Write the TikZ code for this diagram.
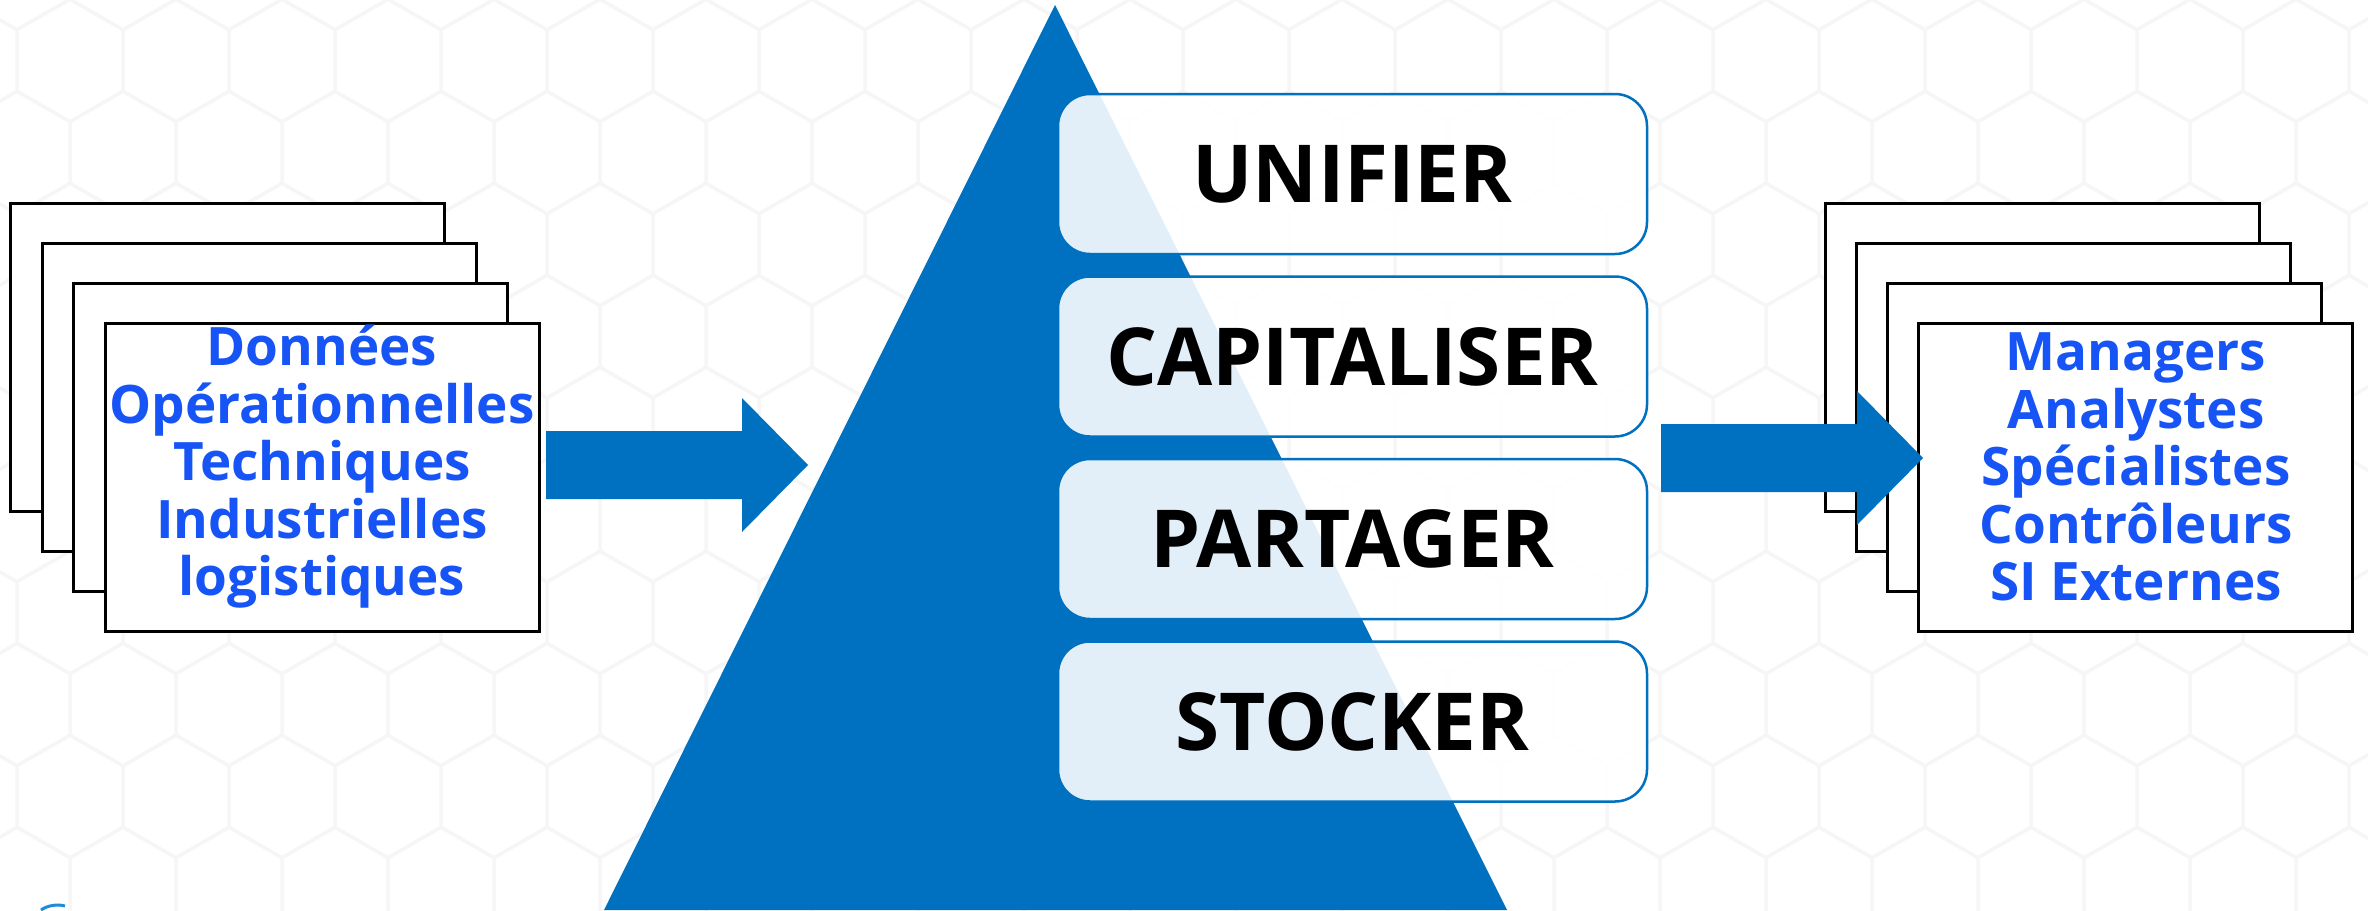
\documentclass[tikz,border=0pt]{standalone}
\usepackage{fontspec}
\setmainfont{Open Sans}
\usetikzlibrary{positioning}
\usetikzlibrary{calc}

\definecolor{pyramid}{RGB}{0,112,192}
\definecolor{labelblue}{RGB}{22,84,245}
\definecolor{hexgray}{RGB}{246,246,246}
\definecolor{logoblue}{RGB}{30,140,215}

% block arrow from #1 to #2 (same height)
\newcommand{\flowarrow}[2]{%
  \fill[flow] let \p1=(#1), \p2=(#2) in
    (\x1,\y1+34pt) -- (\x2-66pt,\y1+34pt) -- (\x2-66pt,\y1+67pt) -- (\x2,\y1)
    -- (\x2-66pt,\y1-67pt) -- (\x2-66pt,\y1-34pt) -- (\x1,\y1-34pt) -- cycle;}

\begin{document}
\begin{tikzpicture}[x=1pt,y=-1pt,
	page/.style={draw=black,line width=3pt,fill=white,minimum width=434pt,minimum height=308pt,inner sep=0pt},
	stage/.style={draw=pyramid,line width=2.5pt,fill=white,fill opacity=0.89,text opacity=1,rounded corners=32pt,
		minimum width=589pt,minimum height=160pt,font=\fontsize{80}{96}\selectfont\bfseries},
	listing/.style={align=center,text=labelblue,font=\fontsize{53}{57.5}\selectfont\bfseries},
	hexline/.style={draw=hexgray,line width=3pt},
	flow/.style={fill=pyramid}
	]
	\useasboundingbox (0,0) rectangle (2368,910);
	% background
	\fill[white] (0,0) rectangle (2368,910);
	\begin{scope}
		\clip (0,0) rectangle (2368,910);
		\foreach \r in {-1,...,10}
		\foreach \k in {-12,...,11}
		\draw[hexline] ({1236+106*\k+53*mod(abs(\r),2)},{-0.5+92*\r}) -- ++(53,30.5) -- ++(0,61)
			-- ++(-53,30.5) -- ++(-53,-30.5) -- ++(0,-61) -- cycle;
	\end{scope}
	\draw[logoblue,line width=3pt] (41,910) .. controls (48,905) and (58,904) .. (65,906);
	
	% pyramid
	\coordinate (apex) at (1055,5);
	\fill[pyramid] (apex) -- (1507,910) -- (604,910) -- cycle;
	
	% stages
	\node[stage] (unifier) at (1352.5,174) {UNIFIER};
	\node[stage,below=20pt of unifier] (capitaliser) {CAPITALISER};
	\node[stage,below=20pt of capitaliser] (partager) {PARTAGER};
	\node[stage,below=20pt of partager] (stocker) {STOCKER};
	
	% sources
	\foreach \i in {1,...,4}
	\node[page] (src\i) at ({227.5+31.5*(\i-1)},{357.5+40*(\i-1)}) {};
	\node[listing] (srctext) at (322,467) {Données\\Opérationnelles\\Techniques\\Industrielles\\logistiques};
	\coordinate (feedstart) at (546,465);
	\coordinate (feedtip) at (808,465);
	\flowarrow{feedstart}{feedtip}
	
	% users
	\foreach \i in {1,...,4}
	\node[page] (dst\i) at ({2042+31.3*(\i-1)},{357.5+40*(\i-1)}) {};
	\node[listing] (dsttext) at (2136,467) {Managers\\Analystes\\Spécialistes\\Contrôleurs\\SI Externes};
	\coordinate (servestart) at (1661,458);
	\coordinate (servetip) at (1923,458);
	\flowarrow{servestart}{servetip}
\end{tikzpicture}
\end{document}
